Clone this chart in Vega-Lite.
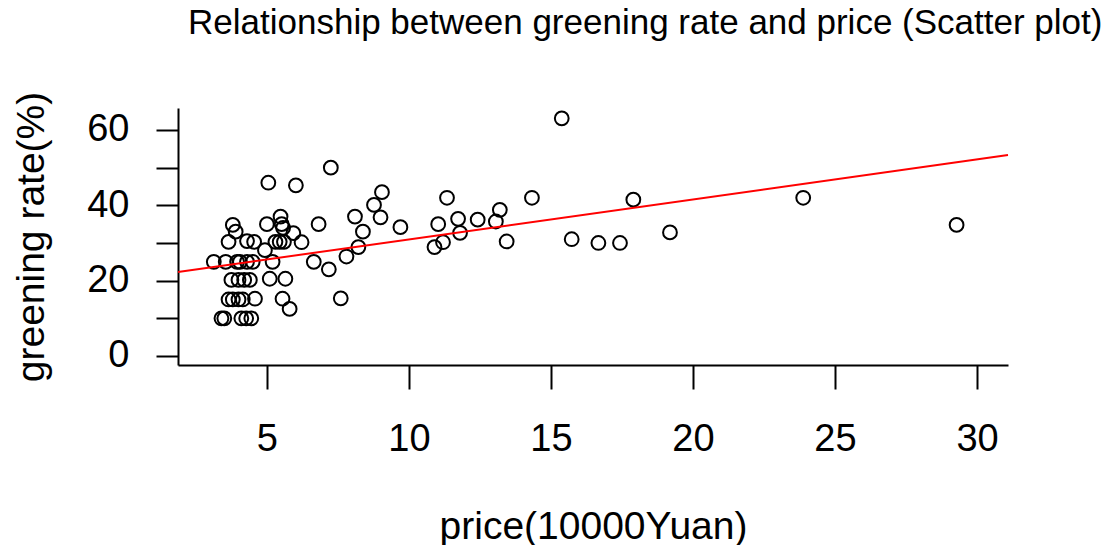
{
  "$schema": "https://vega.github.io/schema/vega-lite/v6.json",
  "width": 830,
  "height": 257,
  "autosize": {"type": "none"},
  "padding": {"left": 178, "top": 108, "right": 108, "bottom": 180},
  "background": "white",
  "title": {
    "text": "Relationship between greening rate and price (Scatter plot)",
    "anchor": "start",
    "frame": "group",
    "dx": 10,
    "offset": 22,
    "baseline": "alphabetic",
    "font": "Liberation Sans",
    "fontSize": 35,
    "fontWeight": "normal",
    "color": "black"
  },
  "config": {
    "view": {"stroke": null},
    "axis": {
      "grid": false,
      "domainColor": "black",
      "domainWidth": 2,
      "tickColor": "black",
      "tickWidth": 2,
      "labelFont": "Liberation Sans",
      "titleFont": "Liberation Sans",
      "labelColor": "black",
      "titleColor": "black",
      "titleFontWeight": "normal",
      "labelFontSize": 38,
      "titleFontSize": 39
    }
  },
  "datasets": {
    "points": [
      {"price": 3.13, "rate": 25}, {"price": 3.55, "rate": 25}, {"price": 3.95, "rate": 25}, {"price": 4.05, "rate": 25},
      {"price": 4.3, "rate": 25}, {"price": 4.5, "rate": 25}, {"price": 3.8, "rate": 34.8}, {"price": 3.9, "rate": 33},
      {"price": 3.65, "rate": 30.3}, {"price": 4.3, "rate": 30.5}, {"price": 4.55, "rate": 30.3}, {"price": 3.75, "rate": 20.2},
      {"price": 4.0, "rate": 20.2}, {"price": 4.2, "rate": 20.2}, {"price": 4.4, "rate": 20.2}, {"price": 5.1, "rate": 20.5},
      {"price": 5.65, "rate": 20.5}, {"price": 3.65, "rate": 15}, {"price": 3.8, "rate": 15}, {"price": 4.0, "rate": 15},
      {"price": 4.15, "rate": 15}, {"price": 4.58, "rate": 15.2}, {"price": 5.55, "rate": 15.2}, {"price": 5.8, "rate": 12.5},
      {"price": 3.4, "rate": 10}, {"price": 3.5, "rate": 10}, {"price": 4.1, "rate": 10}, {"price": 4.27, "rate": 10},
      {"price": 4.45, "rate": 10}, {"price": 5.0, "rate": 35}, {"price": 5.48, "rate": 37}, {"price": 5.52, "rate": 35},
      {"price": 5.57, "rate": 34}, {"price": 5.93, "rate": 32.6}, {"price": 5.3, "rate": 30.3}, {"price": 5.45, "rate": 30.3},
      {"price": 5.6, "rate": 30.3}, {"price": 6.22, "rate": 30.2}, {"price": 4.93, "rate": 28.1}, {"price": 5.2, "rate": 25},
      {"price": 5.05, "rate": 46}, {"price": 6.02, "rate": 45.3}, {"price": 6.65, "rate": 25}, {"price": 6.82, "rate": 35},
      {"price": 7.18, "rate": 23}, {"price": 7.25, "rate": 50}, {"price": 7.6, "rate": 15.3}, {"price": 7.8, "rate": 26.4},
      {"price": 8.1, "rate": 37}, {"price": 8.22, "rate": 28.9}, {"price": 8.38, "rate": 33}, {"price": 8.77, "rate": 40.1},
      {"price": 9.0, "rate": 36.8}, {"price": 9.05, "rate": 43.5}, {"price": 9.7, "rate": 34.2}, {"price": 10.9, "rate": 28.9},
      {"price": 11.2, "rate": 30.2}, {"price": 11.03, "rate": 35}, {"price": 11.34, "rate": 42}, {"price": 11.73, "rate": 36.4},
      {"price": 11.8, "rate": 32.7}, {"price": 12.42, "rate": 36.2}, {"price": 13.06, "rate": 35.7}, {"price": 13.2, "rate": 38.8},
      {"price": 13.44, "rate": 30.4}, {"price": 14.33, "rate": 42}, {"price": 15.38, "rate": 63.1}, {"price": 15.73, "rate": 31},
      {"price": 16.67, "rate": 30}, {"price": 17.43, "rate": 30}, {"price": 17.9, "rate": 41.5}, {"price": 19.19, "rate": 32.8},
      {"price": 23.88, "rate": 42}, {"price": 29.28, "rate": 34.8}
    ],
    "fit": [
      {"price": 1.87, "rate": 22.3},
      {"price": 31.09, "rate": 53.36}
    ]
  },
  "layer": [
    {
      "data": {"name": "points"},
      "mark": {"type": "point", "shape": "circle", "filled": false, "stroke": "black", "strokeWidth": 2, "size": 190, "opacity": 1},
      "encoding": {
        "x": {
          "field": "price", "type": "quantitative",
          "scale": {"domain": [1.87, 31.09], "nice": false, "zero": false},
          "axis": {
            "title": "price(10000Yuan)",
            "values": [5, 10, 15, 20, 25, 30],
            "tickSize": 24,
            "labelPadding": 31,
            "titlePadding": 49,
            "labelFlush": false
          }
        },
        "y": {
          "field": "rate", "type": "quantitative",
          "scale": {"domain": [-2.4, 65.84], "nice": false, "zero": false},
          "axis": {
            "title": "greening rate(%)",
            "values": [0, 10, 20, 30, 40, 50, 60],
            "labelExpr": "datum.value % 20 == 0 ? datum.label : ''",
            "tickSize": 22,
            "labelPadding": 27,
            "titlePadding": 35,
            "labelFlush": false
          }
        }
      }
    },
    {
      "data": {"name": "fit"},
      "mark": {"type": "line", "color": "#ff0000", "strokeWidth": 2},
      "encoding": {
        "x": {"field": "price", "type": "quantitative"},
        "y": {"field": "rate", "type": "quantitative"}
      }
    }
  ]
}
